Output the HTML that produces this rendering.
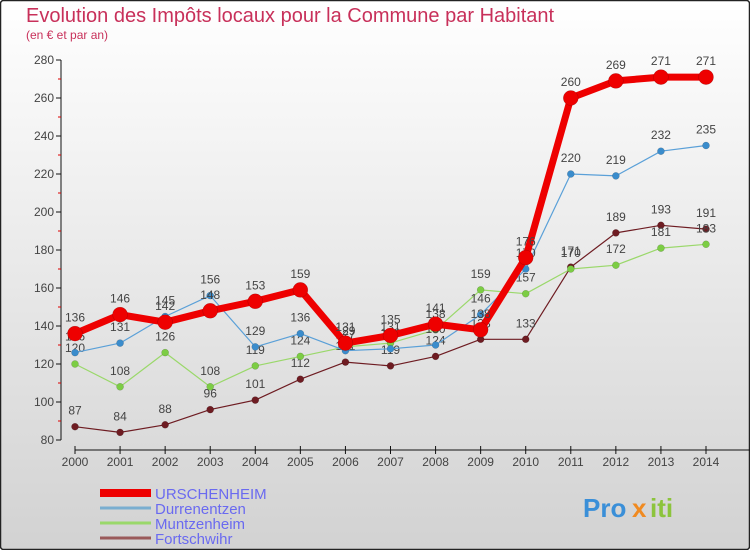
<!DOCTYPE html>
<html><head><meta charset="utf-8"><style>
body{margin:0;width:750px;height:550px;overflow:hidden;font-family:"Liberation Sans",sans-serif}
</style></head><body>
<svg id="chart" width="750" height="550" xmlns="http://www.w3.org/2000/svg">
<defs><linearGradient id="bg" x1="0" y1="0" x2="0" y2="1"><stop offset="0" stop-color="#ffffff"/><stop offset="1" stop-color="#d2d2d2"/></linearGradient></defs>
<rect x="0.5" y="0.5" width="749" height="549" rx="3" fill="url(#bg)" stroke="#222" stroke-width="1.5"/>
<text x="26" y="22" font-size="20" fill="#c8305a">Evolution des Impôts locaux pour la Commune par Habitant</text>
<text x="26" y="39" font-size="12" fill="#c8305a">(en € et par an)</text>
<g id="axes"></g><g id="series"></g><g id="legend"></g>
<g font-size="26" font-weight="bold">
<text x="583" y="517" fill="#3a8fd8">Pro</text><text x="632" y="517" fill="#f08a20">x</text><text x="650" y="517" fill="#8cc43c">iti</text>
</g>
</svg>
<script>
const years=[2000,2001,2002,2003,2004,2005,2006,2007,2008,2009,2010,2011,2012,2013,2014];
const yTicks=[80,100,120,140,160,180,200,220,240,260,280];
const urschenheim=[136,146,142,148,153,159,131,135,141,138,176,260,269,271,271];
const durrenentzen=[126,131,145,156,129,136,127,128,130,146,170,220,219,232,235];
const muntzenheim=[120,108,126,108,119,124,129,131,138,159,157,170,172,181,183];
const fortschwihr=[87,84,88,96,101,112,121,119,124,133,133,171,189,193,191];
const NS='http://www.w3.org/2000/svg';
const xs=i=>75+i*(706-75)/14;
const ys=v=>440-(v-80)*1.9;
function mk(t,a,p){const e=document.createElementNS(NS,t);for(const k in a)e.setAttribute(k,a[k]);p.appendChild(e);return e;}
const ax=document.getElementById('axes');
let yl=mk('line',{x1:61,y1:60,x2:61,y2:440,stroke:'#111','stroke-width':1},ax);


yTicks.forEach(v=>{
  mk('line',{x1:56,y1:ys(v),x2:61,y2:ys(v),stroke:'#111'},ax);
  if(v<280)mk('line',{x1:58,y1:ys(v+10),x2:61,y2:ys(v+10),stroke:'#d00'},ax);
  const t=mk('text',{x:54,y:ys(v)+4,'text-anchor':'end','font-size':12,fill:'#444'},ax);
  
  
  t.textContent=v;
});
let xl=mk('line',{x1:75,y1:450,x2:750,y2:450,stroke:'#111'},ax);


years.forEach((y,i)=>{
  mk('line',{x1:xs(i),y1:446,x2:xs(i),y2:454,stroke:'#111'},ax);
  const t=mk('text',{x:xs(i),y:466,'text-anchor':'middle','font-size':12,fill:'#444'},ax);
  
  
  t.textContent=y;
});
const sg=document.getElementById('series');
const defs=[
 [fortschwihr,'#6e1c22','#6e1c22',1.2,3.5,'fortschwihr'],
 [muntzenheim,'#9ad86a','#7ccd44',1.2,3.5,'muntzenheim'],
 [durrenentzen,'#5aa0d8','#3a8ccc',1.2,3.5,'durrenentzen'],
 [urschenheim,'#ee0000','#ee0000',7,7.5,'urschenheim']];
defs.forEach(([d,c,fc,w,r,n])=>{
  const g=mk('g',{},sg);
  
  
  mk('polyline',{points:d.map((v,i)=>xs(i)+','+ys(v)).join(' '),fill:'none',stroke:c,'stroke-width':w,'stroke-linejoin':'round'},g);
  d.forEach((v,i)=>{
    const p=mk('circle',{cx:xs(i),cy:ys(v),r:r,fill:fc,stroke:'rgba(0,0,0,0.25)','stroke-width':0.5},g);
    
    
    const t=mk('text',{x:xs(i),y:ys(v)-12,'text-anchor':'middle','font-size':12,fill:'#444'},g);
    
    
    t.textContent=v;
  });
});
const lg=document.getElementById('legend');
const items=[['URSCHENHEIM','#ee0000',8,493],['Durrenentzen','#7aaed0',3,508],['Muntzenheim','#9ad86a',3,523],['Fortschwihr','#9a5a5a',3,538]];
items.forEach(([n,c,w,y])=>{
  const g=mk('g',{},lg);
  
  
  mk('line',{x1:100,y1:y,x2:151,y2:y,stroke:c,'stroke-width':w},g);
  const t=mk('text',{x:155,y:y+6,'font-size':15,fill:'#6a6af0'},g);
  t.textContent=n;
});
</script>
</body></html>
